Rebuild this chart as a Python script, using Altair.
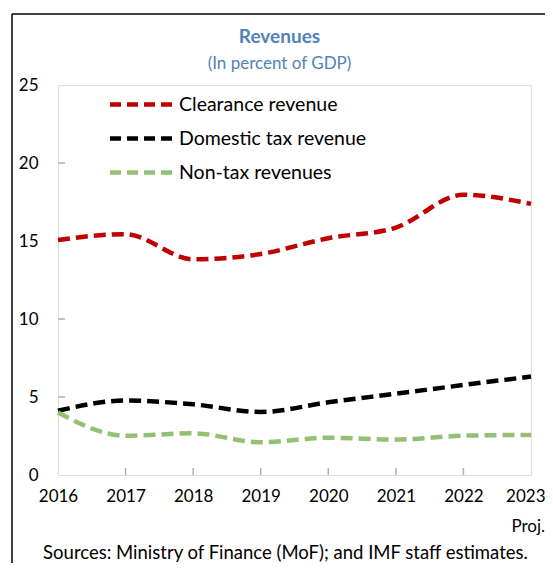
import altair as alt
import pandas as pd

years = [2016, 2017, 2018, 2019, 2020, 2021, 2022, 2023]
clearance = [15.07, 15.44, 13.83, 14.17, 15.18, 15.86, 17.96, 17.38]
domestic = [4.12, 4.77, 4.53, 4.04, 4.66, 5.21, 5.77, 6.31]
nontax = [4.00, 2.52, 2.67, 2.10, 2.39, 2.27, 2.52, 2.57]
series = ["Clearance revenue", "Domestic tax revenue", "Non-tax revenues"]
colors = ["#C00000", "#000000", "#93C073"]
y_ticks = [0, 5, 10, 15, 20, 25]
inner_y_ticks = [5, 10, 15, 20]

FONT = "Lato"
rows = []
for name, vals in zip(series, [clearance, domestic, nontax]):
    for yr, v in zip(years, vals):
        rows.append({"year": yr, "value": v, "series": name})
df = pd.DataFrame(rows)

W, H = 473, 390

xscale = alt.Scale(domain=[2016, 2023], nice=False, zero=False)
yscale = alt.Scale(domain=[0, 25], nice=False)

lines = alt.Chart(df).mark_line(
    strokeWidth=4.5, strokeDash=[12, 6], interpolate="monotone"
).encode(
    x=alt.X("year:Q", scale=xscale,
            axis=alt.Axis(values=years, format="d", title="Sources: Ministry of Finance (MoF); and IMF staff estimates.",
                          labelFontSize=17, labelFont=FONT, labelColor="#000000",
                          labelAlign={"condition": {"test": "datum.value == 2023", "value": "right"}, "value": "center"},
                          labelOffset={"condition": {"test": "datum.value == 2023", "value": 14}, "value": 0},
                          ticks=False, domain=False, grid=False, labelPadding=13,
                          titleFont=FONT, titleFontSize=18.5, titleFontWeight="normal", titleColor="#000000",
                          titleX=227, titleY=83, titleBaseline="alphabetic", titleAnchor="middle",
                          labelFlush=False)),
    y=alt.Y("value:Q", scale=yscale,
            axis=alt.Axis(values=y_ticks, title=None, labelFontSize=17, labelFont=FONT,
                          labelColor="#000000", ticks=False, domain=False, grid=False,
                          labelPadding=20)),
    color=alt.Color("series:N", scale=alt.Scale(domain=series, range=colors),
                    sort=series,
                    legend=alt.Legend(orient="none", legendX=66, legendY=1, title=None,
                                      symbolType="M-2,0L2,0", symbolSize=1056, symbolStrokeWidth=4.5,
                                      symbolDash=[11, 6], labelFont=FONT, labelFontSize=19.5,
                                      labelColor="#000000", rowPadding=6, labelOffset=18,
                                      labelLimit=400)),
)

xt = alt.Chart(pd.DataFrame({"year": years[1:-1]})).mark_rule(color="#B0B0B0", strokeWidth=1.5).encode(
    x=alt.X("year:Q", scale=xscale), y=alt.value(H), y2=alt.value(H - 7)
)
yt = alt.Chart(pd.DataFrame({"v": inner_y_ticks})).mark_rule(color="#B0B0B0", strokeWidth=1.5).encode(
    y=alt.Y("v:Q", scale=yscale), x=alt.value(0), x2=alt.value(7)
)
proj = alt.Chart(pd.DataFrame({"year": [2023], "t": ["Proj."]})).mark_text(
    align="right", baseline="alphabetic", dx=14, font=FONT, fontSize=17, color="#000000"
).encode(x=alt.X("year:Q", scale=xscale), y=alt.value(H + 57), text="t:N")

frame_left = alt.Chart(pd.DataFrame({"a": [0]})).mark_rule(color="#000000", strokeWidth=1.5).encode(
    x=alt.value(-46), y=alt.value(-71), y2=alt.value(H + 90)
)
frame_top = alt.Chart(pd.DataFrame({"a": [0]})).mark_rule(color="#000000", strokeWidth=1.5).encode(
    x=alt.value(-46), x2=alt.value(W + 14), y=alt.value(-71)
)

chart = alt.layer(frame_left, frame_top, xt, yt, lines, proj).properties(
    width=W, height=H,
    autosize=alt.AutoSizeParams(type="none"),
    padding={"left": 50, "top": 77, "right": 14, "bottom": 88},
    title=alt.TitleParams(text="Revenues", subtitle="(In percent of GDP)", anchor="middle",
                          font=FONT, fontSize=19, fontWeight="bold", color="#5083B8",
                          subtitleFont=FONT, subtitleFontSize=17, subtitleColor="#5083B8",
                          subtitlePadding=9, offset=10, dx=-15, dy=69),
).configure_view(stroke="#B0B0B0", strokeWidth=2).configure(background="white")

chart.save("out.html", embed_options={"renderer": "svg", "actions": False})
